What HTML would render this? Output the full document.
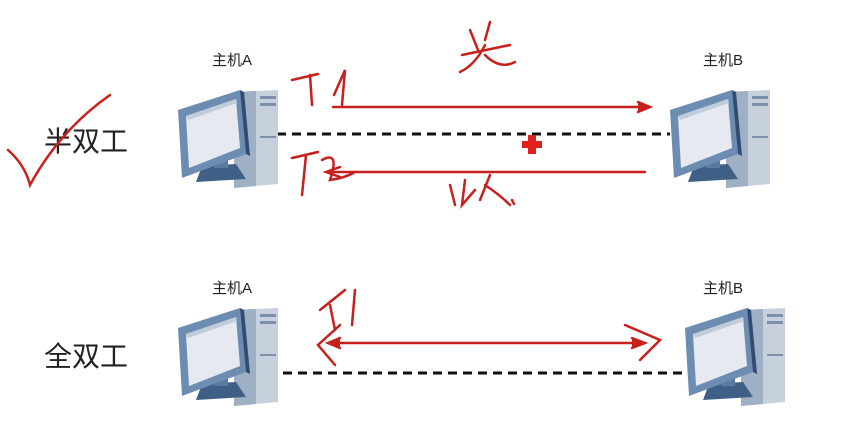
<!DOCTYPE html>
<html><head><meta charset="utf-8"><style>
body{margin:0;background:#fff;width:861px;height:447px;overflow:hidden}
svg{display:block}
text{font-family:"Liberation Sans","Noto Sans CJK SC",sans-serif}
</style></head><body>
<svg width="861" height="447" viewBox="0 0 861 447">
<defs>
<g id="pc">
 <polygon points="58,8 102,6 102,100 58,104" fill="#c7d1dd"/>
 <polygon points="58,8 80,7 80,102 58,104" fill="#9fb0c5"/>
 <rect x="84" y="12" width="16" height="3" fill="#7d90aa"/>
 <rect x="84" y="19" width="16" height="3" fill="#7d90aa"/>
 <rect x="84" y="52" width="16" height="2" fill="#7d90aa"/>
 <polygon points="26,82 60,80 70,95 20,98" fill="#3f5f86"/>
 <polygon points="38,70 52,70 52,84 38,84" fill="#5b7aa0"/>
 <polygon points="2,26 64,6 70,70 6,94" fill="#6c8cb2"/>
 <polygon points="64,6 68,8 74,72 70,70" fill="#2f4c72"/>
 <polygon points="10,32 60,15 64,64 13,84" fill="#e6eaf0"/>
 <polygon points="10,32 60,15 61,19 12,36" fill="#c0ccd9"/>
</g>
</defs>
<text x="44" y="151" font-size="28" fill="#222">半双工</text>
<text x="44" y="366" font-size="28" fill="#222">全双工</text>
<text x="212" y="65" font-size="15" fill="#222">主机A</text>
<text x="703" y="65" font-size="15" fill="#222">主机B</text>
<text x="212" y="293" font-size="15" fill="#222">主机A</text>
<text x="703" y="293" font-size="15" fill="#222">主机B</text>
<line x1="277" y1="134" x2="670" y2="134" stroke="#111" stroke-width="3" stroke-dasharray="9,6"/>
<line x1="283" y1="373" x2="685" y2="373" stroke="#111" stroke-width="3" stroke-dasharray="9,6"/>
<use href="#pc" x="176" y="84"/>
<use href="#pc" x="668" y="84"/>
<use href="#pc" x="176" y="302"/>
<use href="#pc" x="683" y="302"/>
<g stroke="#c8201c" stroke-width="2.5" fill="none" stroke-linecap="round">
 <line x1="333" y1="107" x2="648" y2="107"/><path d="M638,102 L650,107 L638,112" fill="#c8201c"/>
 <line x1="330" y1="172" x2="645" y2="172"/><path d="M340,167 L326,172 L340,177"/>
 <line x1="330" y1="343" x2="642" y2="343"/>
 <path d="M340,338 L328,343 L340,348" fill="#c8201c"/><path d="M632,338 L645,343 L632,348" fill="#c8201c"/>
 <path d="M292,80 L318,74 M310,75 L312,105 M334,95 L345,70 L342,105"/>
 <path d="M292,158 L318,152 M306,155 L302,195 M322,160 Q340,150 330,180 Q345,178 355,172"/>
 <path d="M470,30 L478,50 M490,22 L485,40 M462,55 L510,45 M485,45 Q475,65 460,72 M485,55 Q500,70 515,62"/>
 <path d="M450,185 L455,205 M465,180 L462,205 L475,190 M490,175 L480,200 M485,185 Q500,195 510,205 M512,200 L514,204"/>
 <path d="M8,150 Q25,165 30,185 Q60,130 110,95"/>
 <path d="M320,310 L345,290 M330,305 L335,330 M355,290 L352,325"/>
 <path d="M340,325 L318,345 L335,365"/>
 <path d="M625,325 L660,340 L640,360"/>
</g>
<rect x="528" y="135" width="8" height="19" fill="#e0201c"/>
<rect x="522" y="141" width="20" height="7" fill="#e0201c"/>
</svg>
</body></html>
